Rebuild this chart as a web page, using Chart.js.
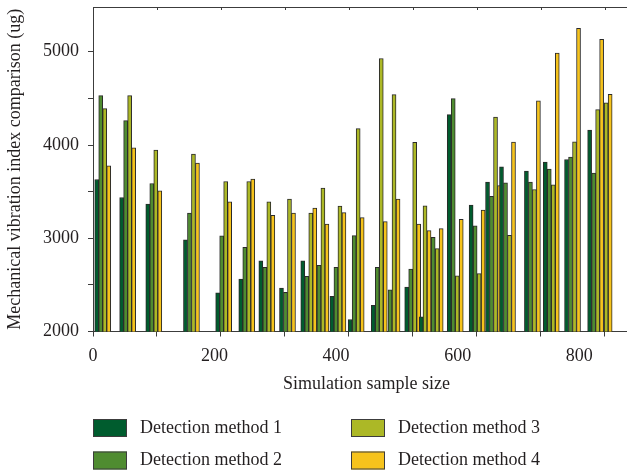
<!DOCTYPE html>
<html>
<head>
<meta charset="utf-8">
<script src="https://cdn.jsdelivr.net/npm/chart.js@4.4.1/dist/chart.umd.min.js"></script>
<style>
  html, body { margin: 0; padding: 0; background: #fff; overflow: hidden; }
  #wrap { width: 627px; height: 475px; overflow: hidden; }
</style>
</head>
<body>
<div id="wrap"><canvas id="chart" width="640" height="475"></canvas></div>
<script>
// ===== DATA =====
// sample size of each bar group (x axis units)
const sampleSizes = [16, 57, 100, 162, 215, 253, 286, 320, 355, 375, 403, 433, 471, 492,
  526, 543, 550, 563, 596, 632, 659, 682, 723, 754, 789, 827, 841];

// null = bar hidden behind a neighbouring group in the figure
const method1 = [3630, 3437, 3366, 2982, 2415, 2562, 2759, 2466, 2759, null, 2376, 2129, 2280, null,
  2476, null, 2157, null, 4326, 3355, 3602, 3767, 3720, 3817, 3845, 4161, null];
const method2 = [4530, 4261, 3587, 3269, 3025, 2903, 2688, 2419, 2591, 2710, 2688, 3028, 2688, 2447,
  2670, null, null, 3011, 4498, 3132, 3450, 3595, 3602, 3742, 3871, 3699, null];
const method3 = [4390, 4530, 3946, 3903, 3609, 3609, 3390, 3419, 3269, 3538, 3344, 4175, 4928, 4541,
  4030, 3347, null, 2888, 2598, 2620, 4300, 3032, 3523, 3573, 4035, 4380, 4452];
const method4 = [3777, 3971, 3509, 3806, 3390, 3634, 3247, 3269, 3323, 3151, 3275, 3222, 3179, 3419,
  3152, 3082, null, 3103, 3202, 3303, 3566, 4032, 4473, 4985, 5251, 5133, 4544];

const seriesNames = ['Detection method 1', 'Detection method 2', 'Detection method 3', 'Detection method 4'];
const xTickLabels = [0, 200, 400, 600, 800];
const yTickLabels = [2000, 3000, 4000, 5000];

// ===== STYLE =====
const FONT = "'Liberation Serif', 'Times New Roman', serif";
const TEXT = '#231f20';
const AXIS = '#3c3c3c';
const COLORS = ['#005c2e', '#4f8c30', '#acb826', '#f6c31c'];
const X_MAX = 900;
const Y_MIN = 2000, Y_MAX = 5480;

Chart.defaults.font.family = FONT;
Chart.defaults.font.size = 18;
Chart.defaults.color = TEXT;

// two-column legend under the axis title
const gridLegend = {
  id: 'gridLegend',
  afterDraw(chart) {
    const { ctx, chartArea } = chart;
    ctx.save();
    ctx.font = `18px ${FONT}`;
    ctx.textBaseline = 'middle';
    chart.data.datasets.forEach((ds, i) => {
      const col = Math.floor(i / 2), row = i % 2;
      const x = chartArea.left + col * 258;
      const y = chart.height - 47 + row * 32.5;
      ctx.fillStyle = ds.backgroundColor;
      ctx.fillRect(x, y - 9, 34, 18);
      ctx.strokeStyle = AXIS;
      ctx.lineWidth = 1;
      ctx.strokeRect(x + 0.5, y - 8.5, 33, 17);
      ctx.fillStyle = TEXT;
      ctx.fillText(ds.label, x + 47, y);
    });
    ctx.restore();
  }
};

// small inward tick marks along the top frame, same spacing as the bottom marks
const topTicks = {
  id: 'topTicks',
  afterDraw(chart) {
    const { ctx, chartArea } = chart;
    const sc = chart.scales.xMarks;
    ctx.save();
    ctx.strokeStyle = AXIS;
    ctx.lineWidth = 1;
    ctx.beginPath();
    sc.ticks.forEach(t => {
      const px = Math.round(sc.getPixelForValue(t.value)) + 0.5;
      ctx.moveTo(px, chartArea.top);
      ctx.lineTo(px, chartArea.top + 3);
    });
    ctx.stroke();
    ctx.restore();
  }
};

const seriesValues = [method1, method2, method3, method4];

new Chart(document.getElementById('chart'), {
  type: 'bar',
  data: {
    labels: sampleSizes,
    datasets: seriesValues.map((values, i) => ({
      label: seriesNames[i],
      data: values,
      backgroundColor: COLORS[i],
      borderColor: '#2a2a2a',
      borderWidth: 1,
      borderSkipped: 'start',
      barThickness: 4,
    }))
  },
  options: {
    responsive: false,
    animation: false,
    layout: { padding: { top: 7, bottom: 80, left: 0, right: 0 } },
    plugins: { legend: { display: false }, tooltip: { enabled: false } },
    scales: {
      xTop: {
        type: 'linear', position: 'top', min: 0, max: X_MAX, offset: false,
        ticks: { display: false },
        grid: { drawOnChartArea: false, drawTicks: false, offset: false },
        border: { color: AXIS, width: 1 },
      },
      xMarks: {
        type: 'linear', position: 'bottom', weight: 0, min: 0, max: X_MAX, offset: false,
        ticks: { display: false, stepSize: 105.3, includeBounds: false },
        grid: { drawOnChartArea: false, tickLength: 5, color: AXIS, offset: false },
        border: { color: AXIS, width: 1 },
      },
      x: {
        type: 'linear', position: 'bottom', weight: 1, min: 0, max: X_MAX, offset: false,
        afterBuildTicks: s => { s.ticks = xTickLabels.map(v => ({ value: v })); },
        afterFit: s => { s.height = 58.5; },
        ticks: { padding: 9, maxRotation: 0, autoSkip: false },
        grid: { display: false, drawTicks: false, offset: false },
        border: { display: false },
        title: { display: true, text: 'Simulation sample size', padding: 0 },
      },
      y: {
        min: Y_MIN, max: Y_MAX,
        // tick marks every half step, labels only on yTickLabels
        afterBuildTicks: s => {
          s.ticks = yTickLabels.flatMap(v => [v, v + 500])
            .filter(v => v <= Y_MAX)
            .map(v => ({ value: v }));
        },
        afterFit: s => { s.width = 93; s.paddingTop = 0; s.paddingBottom = 0; },
        ticks: {
          padding: 9, autoSkip: false,
          callback: v => yTickLabels.includes(v) ? String(v) : ''
        },
        grid: { drawOnChartArea: false, tickLength: 5, color: AXIS },
        border: { color: AXIS, width: 1 },
        title: { display: true, text: 'Mechanical vibration index comparison (ug)', padding: { top: 4, bottom: 0 } },
      }
    }
  },
  plugins: [gridLegend, topTicks]
});
</script>
</body>
</html>
